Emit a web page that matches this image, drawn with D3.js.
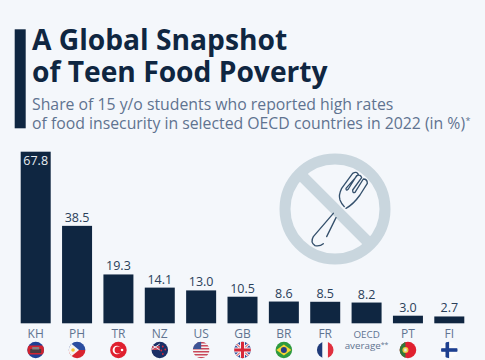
<!DOCTYPE html>
<html>
<head>
<meta charset="utf-8">
<script src="https://cdnjs.cloudflare.com/ajax/libs/d3/7.8.5/d3.min.js"></script>
<style>
html, body { margin: 0; padding: 0; background: #f4f7fb; }
text { font-family: "Open Sans", sans-serif; }
</style>
</head>
<body>
<script>
// values
var codes = ["KH", "PH", "TR", "NZ", "US", "GB", "BR", "FR", "OECD", "PT", "FI"];
var shares = [67.8, 38.5, 19.3, 14.1, 13.0, 10.5, 8.6, 8.5, 8.2, 3.0, 2.7];
var titleLines = ["A Global Snapshot", "of Teen Food Poverty"];
var subtitleLines = ["Share of 15 y/o students who reported high rates", "of food insecurity in selected OECD countries in 2022 (in %)"];

var navy = "#0f2641";
var slate = "#5f7390";

var svg = d3.select("body")
    .append("svg")
    .attr("width", 485)
    .attr("height", 360)
    .style("display", "block");

svg.append("rect")
    .attr("width", 485)
    .attr("height", 360)
    .attr("fill", "#f4f7fb");

// header
svg.append("rect")
    .attr("x", 14.7)
    .attr("y", 29.3)
    .attr("width", 11)
    .attr("height", 99)
    .attr("fill", navy);

svg.selectAll(".title")
    .data(titleLines)
    .enter()
    .append("text")
    .attr("class", "title")
    .attr("x", 32)
    .attr("y", function (d, i) { return 50 + i * 31.7; })
    .attr("font-size", 28.2)
    .attr("font-weight", 700)
    .attr("fill", navy)
    .text(function (d) { return d; });

svg.selectAll(".subtitle")
    .data(subtitleLines)
    .enter()
    .append("text")
    .attr("class", "subtitle")
    .attr("x", 32)
    .attr("y", function (d, i) { return 109.5 + i * 19.3; })
    .attr("font-size", 15.8)
    .attr("fill", slate)
    .text(function (d) { return d; });

svg.append("text")
    .attr("x", 465.5)
    .attr("y", 124)
    .attr("font-size", 9)
    .attr("fill", slate)
    .text("*");

// no-food icon
var icon = svg.append("g").attr("transform", "translate(335,209)");
icon.append("circle")
    .attr("r", 50)
    .attr("fill", "none")
    .attr("stroke", "#c9d6de")
    .attr("stroke-width", 11);
icon.append("path")
    .attr("d", "M-36,-36L36,36")
    .attr("stroke", "#c9d6de")
    .attr("stroke-width", 11);

// fork outline, traced at 3x
svg.append("path")
    .attr("transform", "translate(310,165) scale(0.3333)")
    .attr("fill", "none")
    .attr("stroke", "#34506c")
    .attr("stroke-width", 4)
    .attr("stroke-linejoin", "round")
    .attr("stroke-linecap", "round")
    .attr("d", "M108,130Q130,118 150,90L172,55Q172,42 160,42L135,82Q128,86 128,75L155,38Q152,27 140,32L115,72Q108,80 108,70" +
        "L145,28Q140,18 128,25L95,70Q85,90 90,105Q95,118 103,125" +
        "M70,145L10,215Q0,232 15,242Q30,245 40,236M78,158L50,215");

// chart
var x = d3.scaleBand()
    .domain(codes)
    .range([20.7, 464.3])
    .paddingInner(0.2747)
    .paddingOuter(0);

var y = d3.scaleLinear()
    .domain([0, 67.8])
    .range([323.3, 151.7]);

var data = codes.map(function (c, i) { return { code: c, share: shares[i] }; });

svg.append("g")
    .selectAll("rect")
    .data(data)
    .enter()
    .append("rect")
    .attr("x", function (d) { return x(d.code); })
    .attr("y", function (d) { return y(d.share); })
    .attr("width", x.bandwidth())
    .attr("height", function (d) { return y(0) - y(d.share); })
    .attr("fill", navy);

svg.append("g")
    .selectAll("text")
    .data(data)
    .enter()
    .append("text")
    .attr("x", function (d) { return x(d.code) + x.bandwidth() / 2; })
    .attr("y", function (d) { return d.share > 60 ? y(d.share) + 13.6 : y(d.share) - 4; })
    .attr("text-anchor", "middle")
    .attr("font-size", 12.5)
    .attr("font-weight", 500)
    .attr("fill", function (d) { return d.share > 60 ? "#e8edf2" : "#2a4059"; })
    .text(function (d) { return d.share.toFixed(1); });

// category labels
var axis = svg.append("g")
    .attr("transform", "translate(0,323.3)")
    .call(d3.axisBottom(x)
        .tickValues(codes.filter(function (c) { return c !== "OECD"; }))
        .tickSize(0)
        .tickPadding(6));
axis.select(".domain").remove();
axis.selectAll("text")
    .attr("font-size", 12)
    .attr("font-family", "'Open Sans', sans-serif")
    .attr("fill", slate);

var oecdX = x("OECD") + x.bandwidth() / 2;
svg.append("text")
    .attr("x", oecdX)
    .attr("y", 338)
    .attr("text-anchor", "middle")
    .attr("font-size", 9.8)
    .attr("fill", slate)
    .text("OECD");
var avg = svg.append("text")
    .attr("x", oecdX)
    .attr("y", 349)
    .attr("text-anchor", "middle")
    .attr("font-size", 9.8)
    .attr("fill", slate)
    .text("average");
avg.append("tspan")
    .attr("font-size", 7)
    .attr("dy", -2)
    .text("**");

// flags
var r = 8.3;
var defs = svg.append("defs");
defs.append("clipPath").attr("id", "flagClip").append("circle").attr("r", r);

function rect(g, x0, y0, w, h, fill) {
    g.append("rect").attr("x", x0).attr("y", y0).attr("width", w).attr("height", h).attr("fill", fill);
}
function path(g, d, fill, stroke, sw) {
    g.append("path").attr("d", d).attr("fill", fill || "none").attr("stroke", stroke || "none").attr("stroke-width", sw || 0);
}
function dot(g, cx, cy, cr, fill) {
    g.append("circle").attr("cx", cx).attr("cy", cy).attr("r", cr).attr("fill", fill);
}

var flagDraw = {
    KH: function (g) {
        rect(g, -9, -9, 18, 18, "#1f3f94");
        rect(g, -9, -4.5, 18, 9, "#d2232f");
        rect(g, -5.5, -1, 11, 4, "#4a3a40");
        rect(g, -3.5, -3, 7, 2.5, "#8a7f80");
    },
    PH: function (g) {
        rect(g, -9, -9, 18, 9, "#2a4da0");
        rect(g, -9, 0, 18, 9, "#d8242f");
        path(g, "M-9,-9L2,0L-9,9Z", "#f4f4f4");
        dot(g, -4, 0, 1.8, "#f2c53a");
    },
    TR: function (g) {
        rect(g, -9, -9, 18, 18, "#e0202f");
        dot(g, -1.5, 0, 4.3, "#fff");
        dot(g, -0.4, 0, 3.4, "#e0202f");
        dot(g, 3.6, 0, 1.3, "#fff");
    },
    NZ: function (g) {
        rect(g, -9, -9, 18, 18, "#1a2f66");
        rect(g, -9, -4, 9, 4, "#c9485a");
        path(g, "M-9,-6L0,0M0,-6L-9,0", null, "#e6e6ee", 1);
        dot(g, 3, -3.5, 0.9, "#d8283a");
        dot(g, 5.5, -0.5, 0.9, "#d8283a");
        dot(g, 1.5, 0.5, 0.9, "#d8283a");
        dot(g, 3, 4, 0.9, "#d8283a");
    },
    US: function (g) {
        rect(g, -9, -9, 18, 18, "#f2f2f2");
        [-8, -5, -2, 1, 4, 7].forEach(function (s) { rect(g, -9, s, 18, 1.5, "#c9485a"); });
        rect(g, -9, -9, 9, 8, "#3d5596");
    },
    GB: function (g) {
        rect(g, -9, -9, 18, 18, "#2b4a9a");
        path(g, "M-9,-9L9,9M9,-9L-9,9", null, "#f2f2f2", 3);
        path(g, "M-9,-9L9,9M9,-9L-9,9", null, "#d8283a", 1);
        path(g, "M0,-9V9M-9,0H9", null, "#f2f2f2", 5);
        path(g, "M0,-9V9M-9,0H9", null, "#d8283a", 3);
    },
    BR: function (g) {
        rect(g, -9, -9, 18, 18, "#2f9a3f");
        path(g, "M-7.5,0L0,-5.5L7.5,0L0,5.5Z", "#f5d432");
        dot(g, 0, 0, 3, "#263f86");
    },
    FR: function (g) {
        rect(g, -9, -9, 6.3, 18, "#1f3b7a");
        rect(g, -2.7, -9, 5.4, 18, "#f9f9f9");
        rect(g, 2.7, -9, 6.3, 18, "#e0303f");
    },
    PT: function (g) {
        rect(g, -9, -9, 18, 18, "#e0202f");
        rect(g, -9, -9, 6.5, 18, "#2f7a38");
        dot(g, -2.5, 0, 3, "#e8c83a");
        rect(g, -3.7, -1.5, 2.4, 3, "#e8e8e8");
    },
    FI: function (g) {
        rect(g, -9, -9, 18, 18, "#fbfbfb");
        rect(g, -3.8, -9, 3.6, 18, "#1d3f8f");
        rect(g, -9, -1.8, 18, 3.6, "#1d3f8f");
    }
};

codes.forEach(function (c) {
    if (!flagDraw[c]) return;
    var g = svg.append("g")
        .attr("transform", "translate(" + (x(c) + x.bandwidth() / 2) + ",350)")
        .append("g")
        .attr("clip-path", "url(#flagClip)");
    flagDraw[c](g);
});
</script>
</body>
</html>
